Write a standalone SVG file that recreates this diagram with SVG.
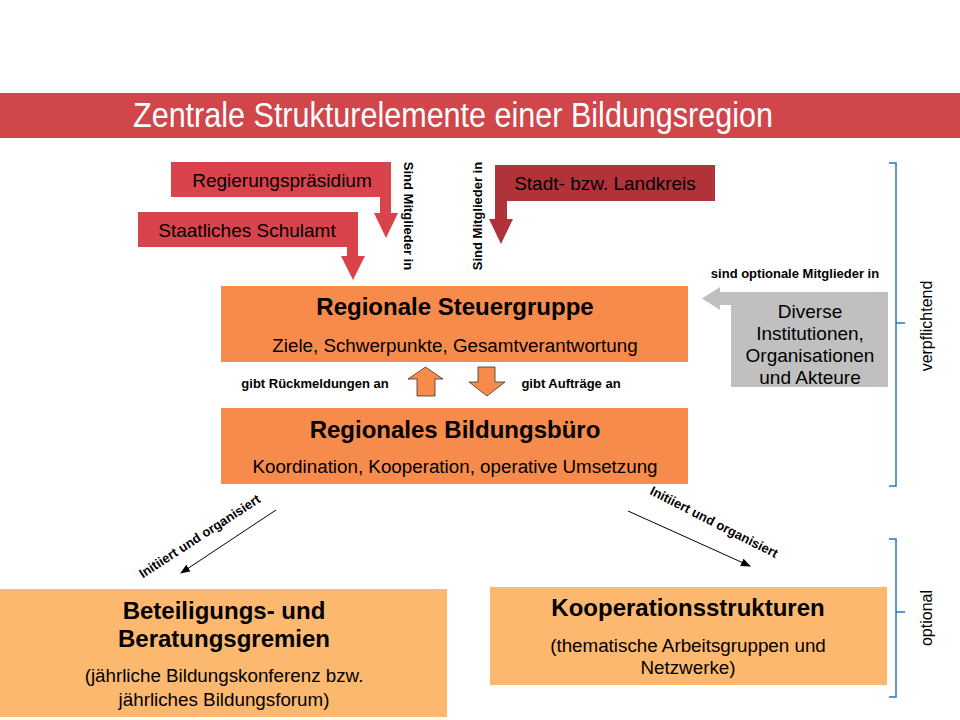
<svg xmlns="http://www.w3.org/2000/svg" width="960" height="720" viewBox="0 0 960 720">
<style>
text{font-family:"Liberation Sans",Arial,sans-serif;fill:#000}
.t{font-size:19px}
.h{font-size:24px;font-weight:bold}
.s{font-size:18.8px}
.b{font-size:13px;font-weight:bold}
.lbl{font-size:13px;font-weight:bold}
.red{fill:#d9434b}
.dred{fill:#b1333a}
.or{fill:#f78b4b}
.lor{fill:#fdb86f}
.brace{fill:none;stroke:#1f78c8;stroke-width:1.5}
.side{font-size:16px}
</style>
<defs>
<marker id="ah" markerWidth="10" markerHeight="8" refX="9" refY="4" orient="auto" markerUnits="userSpaceOnUse">
<path d="M0,0 L10,4 L0,8 Z" fill="#000"/>
</marker>
</defs>
<rect width="960" height="720" fill="#fff"/>
<g id="title">
<rect x="0" y="93" width="960" height="45" fill="#d0464b"/>
<text x="453" y="127" text-anchor="middle" style="font-size:35px;fill:#fff" textLength="640" lengthAdjust="spacingAndGlyphs">Zentrale Strukturelemente einer Bildungsregion</text>
</g>
<g id="regierungspraesidium">
<path class="red" d="M171,162 H391 V213 H398 L386,238 L374,213 H380 V197 H171 Z"/>
<text class="t" x="282" y="187" text-anchor="middle">Regierungspräsidium</text>
</g>
<g id="schulamt">
<path class="red" d="M138,212 H358 V256 H365 L353,280 L341,256 H347 V247 H138 Z"/>
<text class="t" x="247" y="237" text-anchor="middle">Staatliches Schulamt</text>
</g>
<g id="landkreis">
<path class="dred" d="M495,165 H715 V201 H507 V219 H513 L501,244 L489,219 H495 Z"/>
<text class="t" x="605" y="190" text-anchor="middle">Stadt- bzw. Landkreis</text>
</g>
<g id="labels-mitglieder">
<text class="b" transform="translate(404,216) rotate(90)" text-anchor="middle">Sind Mitglieder in</text>
<text class="b" transform="translate(482,216) rotate(-90)" text-anchor="middle">Sind Mitglieder in</text>
</g>
<g id="steuergruppe">
<rect class="or" x="221" y="286" width="467" height="76"/>
<text class="h" x="455" y="315" text-anchor="middle">Regionale Steuergruppe</text>
<text class="s" x="455" y="352" text-anchor="middle">Ziele, Schwerpunkte, Gesamtverantwortung</text>
</g>
<g id="bildungsbuero">
<rect class="or" x="221" y="408" width="467" height="76"/>
<text class="h" x="455" y="438" text-anchor="middle">Regionales Bildungsbüro</text>
<text class="s" x="455" y="473" text-anchor="middle">Koordination, Kooperation, operative Umsetzung</text>
</g>
<g id="institutionen">
<path d="M702,298.5 L720,287 V292 H888 V387 H731 V305 H720 V310 Z" fill="#c0c0c0"/>
<text class="t" x="810" y="318" text-anchor="middle">Diverse</text>
<text class="t" x="810" y="340" text-anchor="middle">Institutionen,</text>
<text class="t" x="810" y="362" text-anchor="middle">Organisationen</text>
<text class="t" x="810" y="384" text-anchor="middle">und Akteure</text>
<text class="b" x="795" y="278" text-anchor="middle">sind optionale Mitglieder in</text>
</g>
<g id="beteiligung">
<rect class="lor" x="0" y="589" width="447" height="128"/>
<text class="h" x="224" y="619" text-anchor="middle">Beteiligungs- und</text>
<text class="h" x="224" y="647" text-anchor="middle">Beratungsgremien</text>
<text class="s" x="224" y="682" text-anchor="middle">(jährliche Bildungskonferenz bzw.</text>
<text class="s" x="224" y="706" text-anchor="middle">jährliches Bildungsforum)</text>
</g>
<g id="kooperation">
<rect class="lor" x="490" y="587" width="397" height="98"/>
<text class="h" x="688" y="616" text-anchor="middle">Kooperationsstrukturen</text>
<text class="s" x="688" y="652" text-anchor="middle">(thematische Arbeitsgruppen und</text>
<text class="s" x="688" y="674" text-anchor="middle">Netzwerke)</text>
</g>
<g id="connectors">
<path d="M408,379 L425.5,367 L443,379 H435 V396 H417 V379 Z" fill="#f78b4b" stroke="#333" stroke-width="0.8"/>
<path d="M478,367 H495 V382 H505 L487,396 L469,382 H478 Z" fill="#f78b4b" stroke="#333" stroke-width="0.8"/>
<text class="b" x="315" y="388" text-anchor="middle">gibt Rückmeldungen an</text>
<text class="b" x="571" y="388" text-anchor="middle">gibt Aufträge an</text>
<line x1="276" y1="510" x2="181" y2="573" stroke="#000" stroke-width="1" marker-end="url(#ah)"/>
<text class="lbl" transform="translate(202,540) rotate(-33)" text-anchor="middle">Initiiert und organisiert</text>
<line x1="628" y1="511" x2="750" y2="566" stroke="#000" stroke-width="1" marker-end="url(#ah)"/>
<text class="lbl" transform="translate(712,526) rotate(27)" text-anchor="middle">Initiiert und organisiert</text>
</g>
<g id="braces">
<path class="brace" d="M889,163 H896 V486 H889 M896,323 H905"/>
<text class="side" x="932" y="326" transform="rotate(-90 932 326)" text-anchor="middle">verpflichtend</text>
<path class="brace" d="M889,539 H896 V697 H889 M896,612 H905"/>
<text class="side" x="932" y="618" transform="rotate(-90 932 618)" text-anchor="middle">optional</text>
</g>
</svg>
